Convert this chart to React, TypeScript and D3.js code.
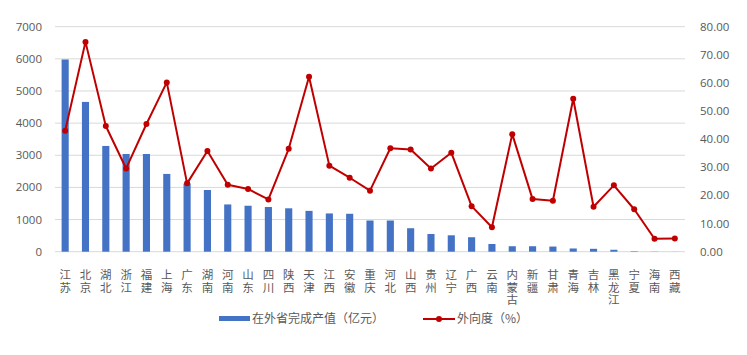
import React from "react";
import * as d3 from "d3";

const provinces = ["江苏","北京","湖北","浙江","福建","上海","广东","湖南","河南","山东","四川","陕西","天津","江西","安徽","重庆","河北","山西","贵州","辽宁","广西","云南","内蒙古","新疆","甘肃","青海","吉林","黑龙江","宁夏","海南","西藏"];
const outputValues = [5980, 4660, 3290, 3040, 3040, 2420, 2120, 1920, 1470, 1430, 1390, 1350, 1270, 1190, 1180, 970, 970, 730, 550, 510, 450, 240, 170, 170, 160, 100, 90, 60, 15, 5, 2];
const ratioValues = [43.0, 74.6, 44.7, 29.6, 45.4, 60.2, 24.3, 35.8, 23.8, 22.3, 18.6, 36.6, 62.2, 30.6, 26.3, 21.7, 36.8, 36.3, 29.6, 35.2, 16.2, 8.7, 41.8, 18.7, 18.1, 54.4, 16.0, 23.6, 15.1, 4.6, 4.7];
const leftTicks = [0, 1000, 2000, 3000, 4000, 5000, 6000, 7000];
const rightTicks = [0, 10, 20, 30, 40, 50, 60, 70, 80];
const legendBar = "在外省完成产值（亿元）";
const legendLine = "外向度（%）";

const W = 747, H = 355;
const left = 55, right = 685, top = 26.7, bottom = 251.7;
const BLUE = "#4472C4", RED = "#C00000", GRID = "#D9D9D9", TXT = "#595959";
const CJK = "'Noto Sans CJK SC', sans-serif";
const NUM = "'Open Sans', 'Noto Sans', sans-serif";

export default function App() {
  const x = d3.scaleBand<string>().domain(provinces).range([left, right]).paddingInner(0.65).paddingOuter(0.325);
  const yL = d3.scaleLinear().domain([0, 7000]).range([bottom, top]);
  const yR = d3.scaleLinear().domain([0, 80]).range([bottom, top]);
  const cx = (p: string) => (x(p) as number) + x.bandwidth() / 2;
  const line = d3.line<number>().x((_, i) => cx(provinces[i])).y((d) => yR(d));

  return (
    <svg width={W} height={H} style={{ position: "absolute", left: 0, top: 0, background: "#fff" }}>
      {leftTicks.map((t) => (
        <line key={"g" + t} x1={left} x2={right} y1={yL(t)} y2={yL(t)} stroke={GRID} strokeWidth={1} />
      ))}
      {leftTicks.map((t) => (
        <text key={"l" + t} x={42} y={yL(t)} dy="0.35em" textAnchor="end" fontSize={11.5} fill={TXT} fontFamily={NUM}>{t}</text>
      ))}
      {rightTicks.map((t) => (
        <text key={"r" + t} x={700} y={yR(t)} dy="0.35em" textAnchor="start" fontSize={11.5} fill={TXT} fontFamily={NUM}>{d3.format(".2f")(t)}</text>
      ))}
      {provinces.map((p, i) => (
        <rect key={"b" + p} x={x(p)} y={yL(outputValues[i])} width={x.bandwidth()} height={bottom - yL(outputValues[i])} fill={BLUE} />
      ))}
      <path d={line(ratioValues) || ""} fill="none" stroke={RED} strokeWidth={2} strokeLinejoin="round" />
      {ratioValues.map((v, i) => (
        <circle key={"c" + i} cx={cx(provinces[i])} cy={yR(v)} r={3} fill={RED} />
      ))}
      {provinces.map((p) => (
        <text
          key={"t" + p}
          x={cx(p)}
          y={269}
          fontSize={11.5}
          fill={TXT}
          fontFamily={CJK}
          letterSpacing={1}
          style={{ writingMode: "vertical-rl", textOrientation: "upright" } as any}
        >
          {p}
        </text>
      ))}
      <rect x={219} y={316} width={31} height={5} fill={BLUE} />
      <text x={252} y={319} dy="0.35em" fontSize={12} fill={TXT} fontFamily={CJK}>{legendBar}</text>
      <line x1={423} x2={455} y1={319} y2={319} stroke={RED} strokeWidth={2} />
      <circle cx={439} cy={319} r={3} fill={RED} />
      <text x={457} y={319} dy="0.35em" fontSize={12} fill={TXT} fontFamily={CJK}>{legendLine}</text>
    </svg>
  );
}
